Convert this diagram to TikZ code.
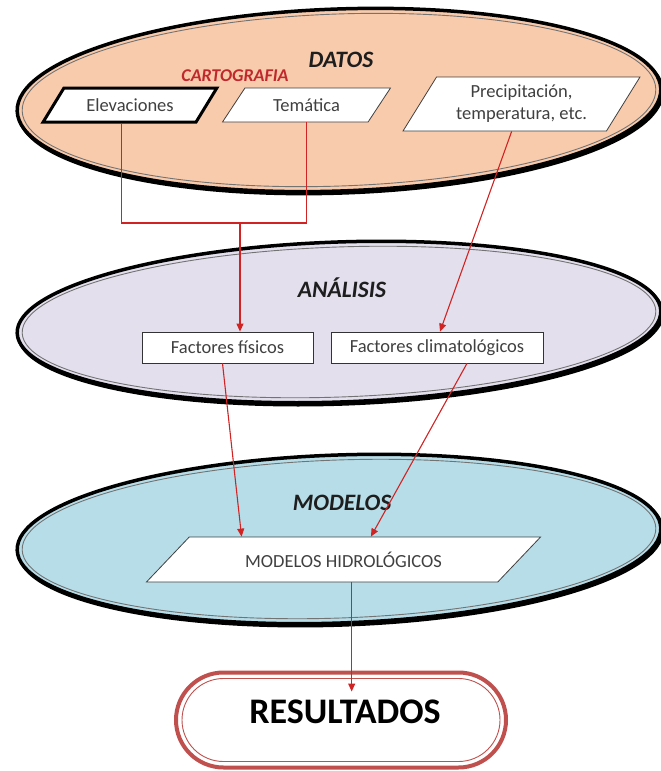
\documentclass[tikz,border=0pt]{standalone}
\usepackage{fontspec}
\setmainfont{Carlito}
\usetikzlibrary{shapes.geometric,shapes.misc,arrows.meta,calc}

\definecolor{peach}{RGB}{248,203,173}
\definecolor{lavender}{RGB}{228,223,236}
\definecolor{aqua}{RGB}{183,221,232}
\definecolor{linkred}{RGB}{208,36,36}
\definecolor{cartored}{RGB}{192,40,45}
\definecolor{resred}{RGB}{192,80,77}
\definecolor{bodytext}{RGB}{64,64,64}
\definecolor{titletext}{RGB}{30,30,30}

\begin{document}
\begin{tikzpicture}[x=1pt,y=-1pt,
  zone/.style={ellipse, inner sep=0pt, outer sep=0pt, rotate=2, line width=3.5pt, draw=black},
  zoneshadow/.style={ellipse, inner sep=0pt, outer sep=0pt, rotate=2, line width=3.5pt, draw=black},
  zoneinner/.style={ellipse, inner sep=0pt, outer sep=0pt, rotate=2, line width=0.9pt, draw=black!55},
  title/.style={font=\fontsize{23.5}{27}\selectfont\bfseries\itshape, text=titletext},
  para/.style={trapezium, trapezium stretches=true, draw=black!75, line width=0.8pt,
    fill=white, inner sep=0pt, font=\fontsize{18.5}{22}\selectfont, text=bodytext, align=center},
  factor/.style={rectangle, draw=black!80, line width=0.8pt, fill=white, minimum height=31pt,
    inner sep=0pt, font=\fontsize{18.5}{22}\selectfont, text=bodytext},
  link/.style={draw=linkred, line width=1.1pt},
  flow/.style={link, -{Triangle[length=8pt,width=7pt]}},
]
\useasboundingbox (0,0) rectangle (661,771);

% --- DATOS layer ---
\node[zoneshadow, minimum width=644pt, minimum height=182pt] at (340.5,102) {};
\node[zone, fill=peach, minimum width=644pt, minimum height=182pt] (datosZone) at (339,100) {};
\node[zoneinner, minimum width=634pt, minimum height=172pt] at (339,100) {};
\node[title] (datos) at (341,60) {DATOS};
\node[title, font=\fontsize{18}{22}\selectfont\bfseries\itshape, text=cartored] (carto) at (235,76) {CARTOGRAFIA};

\node[para, draw=black, line width=3pt, trapezium left angle=43.4, trapezium right angle=136.6,
  minimum width=174pt, minimum height=34pt] (elev) at (130,105) {Elevaciones};
\node[para, trapezium left angle=46.7, trapezium right angle=133.3,
  minimum width=169pt, minimum height=34pt] (tem) at (306.5,105) {Temática};
\node[para, trapezium left angle=55.6, trapezium right angle=124.4,
  minimum width=237pt, minimum height=54pt] (precip) at (521.5,104) {Precipitación,\\temperatura, etc.};

% --- ANÁLISIS layer ---
\node[zoneshadow, minimum width=644pt, minimum height=160pt] at (340.5,324) {};
\node[zone, fill=lavender, minimum width=644pt, minimum height=160pt] (analisisZone) at (339,322) {};
\node[zoneinner, minimum width=634pt, minimum height=150pt] at (339,322) {};
\node[title] (analisis) at (342,288) {ANÁLISIS};

\node[factor, minimum width=171pt] (fis) at (227.5,347.5) {Factores físicos};
\node[factor, minimum width=212pt] (clim) at (437,347.5) {Factores climatológicos};

% --- MODELOS layer ---
\node[zoneshadow, minimum width=644pt, minimum height=168pt] at (340.5,541) {};
\node[zone, fill=aqua, minimum width=644pt, minimum height=168pt] (modelosZone) at (339,539) {};
\node[zoneinner, minimum width=634pt, minimum height=158pt] at (339,539) {};
\node[title] (modelos) at (342,503) {MODELOS};

\node[para, trapezium left angle=29.7, trapezium right angle=150.3,
  minimum width=395pt, minimum height=45pt] (hidro) at (343.5,559.5) {MODELOS HIDROLÓGICOS};

% --- RESULTADOS ---
\node[rounded rectangle, draw=resred, line width=4pt, fill=white, minimum width=330pt,
  minimum height=95pt, inner sep=0pt] (res) at (341,720) {};
\node[rounded rectangle, draw=resred, line width=0.9pt, minimum width=318pt,
  minimum height=83pt, inner sep=0pt] at (res.center) {};
\node[font=\fontsize{36}{42}\selectfont\bfseries, text=black] (resText) at (345,712) {RESULTADOS};

% --- connectors ---
\coordinate (elevOut) at ($(elev.bottom left corner)!0.52!(elev.bottom right corner)$);
\coordinate (temOut) at ($(tem.bottom left corner)!0.58!(tem.bottom right corner)$);
\coordinate (cartoJoin) at (240,223);
\draw[link] (elevOut) -- (elevOut |- cartoJoin) -- (temOut |- cartoJoin) -- (temOut);
\draw[flow] (cartoJoin) -- (cartoJoin |- fis.north);

\coordinate (precipOut) at ($(precip.bottom left corner)!0.535!(precip.bottom right corner)$);
\draw[flow] (precipOut) -- ($(clim.north)+(3,0)$);

\coordinate (hidroInA) at ($(hidro.top left corner)!0.149!(hidro.top right corner)$);
\coordinate (hidroInB) at ($(hidro.top left corner)!0.516!(hidro.top right corner)$);
\draw[flow] ($(fis.south)+(-5,0)$) -- (hidroInA);
\draw[flow] ($(clim.south)+(30,0)$) -- (hidroInB);

\coordinate (hidroOut) at ($(hidro.bottom left corner)!0.585!(hidro.bottom right corner)$);
\coordinate (resIn) at ($(res.north)+(0,21)$);
\draw[flow] (hidroOut) -- (hidroOut |- resIn);
\end{tikzpicture}
\end{document}
